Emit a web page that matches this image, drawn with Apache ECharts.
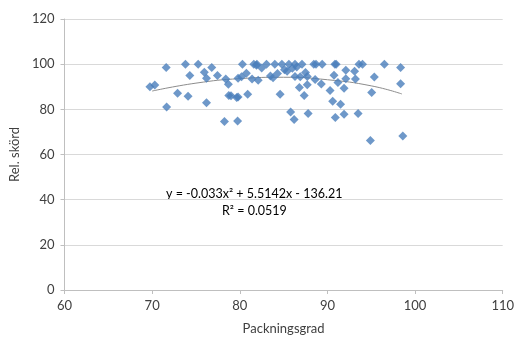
<!DOCTYPE html>
<html>
<head>
<meta charset="utf-8">
<script src="https://cdn.jsdelivr.net/npm/echarts@6/dist/echarts.min.js"></script>
<style>
  html, body { margin: 0; padding: 0; background: #fff; }
  #chart { width: 517px; height: 340px; }
</style>
</head>
<body>
<div id="chart"></div>
<script>
// packningsgrad (x) and relative yield (y)
const packX = [69.75, 70.3, 71.6, 71.65, 72.9, 73.8, 74.1, 74.3, 75.25, 75.95,
  76.2, 76.2, 76.8, 77.45, 78.25, 78.4, 78.7, 78.75, 79.0, 79.65,
  79.8, 79.75, 79.8, 80.2, 80.3, 80.75, 80.9, 81.4, 81.6, 81.9,
  81.95, 82.1, 82.5, 83.05, 83.5, 83.8, 84.0, 84.3, 84.6, 84.8,
  85.1, 85.4, 85.6, 85.8, 86.0, 86.2, 86.3, 86.5, 86.3, 86.8,
  86.9, 87.1, 87.35, 87.5, 87.7, 87.7, 87.8, 88.45, 88.6, 88.7,
  89.3, 89.4, 90.3, 90.6, 90.75, 90.85, 91.0, 90.9, 91.2, 91.5,
  91.9, 91.9, 92.1, 92.1, 93.1, 93.2, 93.5, 93.6, 94.0, 95.05,
  95.35, 94.9, 96.5, 98.35, 98.35, 98.6]
const relYield = [90.0, 90.8, 98.5, 81.0, 87.1, 100, 85.8, 95.0, 100, 96.4,
  93.8, 82.9, 98.5, 95.0, 74.6, 93.4, 91.1, 86.1, 86.0, 85.2,
  85.5, 74.8, 93.8, 94.4, 100, 96.0, 86.7, 93.4, 100, 99.5,
  100, 92.9, 98.3, 100, 94.8, 94.0, 100, 95.9, 86.7, 100,
  97.5, 96.9, 100, 78.8, 98.2, 75.5, 100, 98.8, 94.5, 89.7,
  94.4, 100, 86.1, 96.3, 94.5, 90.9, 78.1, 100, 93.2, 100,
  91.2, 100, 88.3, 83.6, 95.1, 100, 100, 76.4, 91.9, 82.2,
  89.3, 77.8, 93.5, 97.3, 96.9, 93.4, 78.1, 100, 100, 87.4,
  94.3, 66.2, 100, 98.5, 91.3, 68.2]

// trendline
const trendX = [70, 75, 80, 85, 90, 95, 98.5]
const trendY = [88.1, 91.6, 93.6, 94.2, 93.1, 90.4, 86.8]

const xTicks = [60, 70, 80, 90, 100, 110]
const yTicks = [0, 20, 40, 60, 80, 100, 120]

const eqText = 'y = -0.033x\u00b2 + 5.5142x - 136.21'
const r2Text = 'R\u00b2 = 0.0519'

const FONT = 'Lato, "Open Sans", sans-serif'
const chart = echarts.init(document.getElementById('chart'))

chart.setOption({
  animation: false,
  textStyle: { fontFamily: FONT },
  grid: { left: 63, right: 14, top: 19, bottom: 46, containLabel: false },
  xAxis: {
    type: 'value',
    min: xTicks[0],
    max: xTicks[xTicks.length - 1],
    interval: 10,
    name: 'Packningsgrad',
    nameLocation: 'middle',
    nameGap: 32,
    nameTextStyle: { color: '#404040', fontSize: 13, fontFamily: FONT },
    axisLine: { show: true, lineStyle: { color: '#bfbfbf' } },
    axisTick: { show: true, length: 4, lineStyle: { color: '#bfbfbf' } },
    axisLabel: { color: '#404040', fontSize: 13, margin: 9, fontFamily: FONT },
    splitLine: { show: false }
  },
  yAxis: {
    type: 'value',
    min: yTicks[0],
    max: yTicks[yTicks.length - 1],
    interval: 20,
    name: 'Rel. skörd',
    nameLocation: 'middle',
    nameGap: 38,
    nameTextStyle: { color: '#404040', fontSize: 13, fontFamily: FONT },
    axisLine: { show: true, lineStyle: { color: '#bfbfbf' } },
    axisTick: { show: true, length: 4, lineStyle: { color: '#bfbfbf' } },
    axisLabel: { color: '#404040', fontSize: 13, margin: 10, fontFamily: FONT },
    splitLine: { show: true, lineStyle: { color: '#d9d9d9', width: 1 } }
  },
  series: [
    {
      type: 'scatter',
      symbol: 'diamond',
      symbolSize: 9,
      itemStyle: { color: '#4a7ebb' },
      data: packX.map((x, i) => [x, relYield[i]]),
      z: 3
    },
    {
      type: 'line',
      smooth: true,
      showSymbol: false,
      symbol: 'none',
      lineStyle: { color: '#8c8c8c', width: 1 },
      data: trendX.map((x, i) => [x, trendY[i]]),
      z: 2
    }
  ],
  graphic: [
    {
      type: 'text',
      left: 166,
      top: 187,
      style: { text: eqText, fill: '#000', font: '12.5px ' + FONT }
    },
    {
      type: 'text',
      left: 222,
      top: 204,
      style: { text: r2Text, fill: '#000', font: '12.5px ' + FONT }
    }
  ]
})
</script>
</body>
</html>
